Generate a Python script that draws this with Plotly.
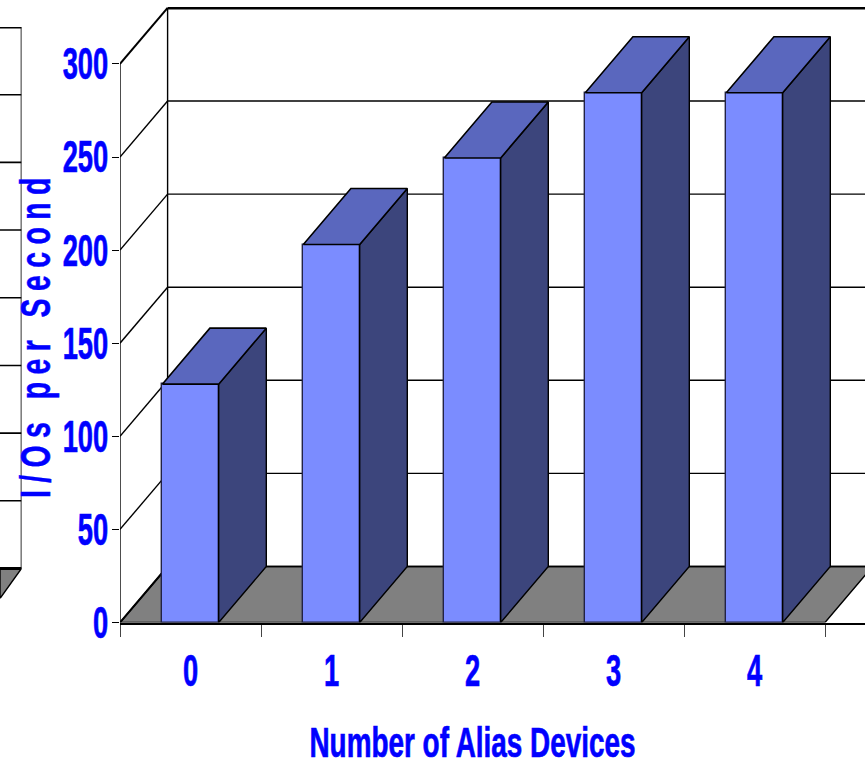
import plotly.graph_objects as go

# Measured results
categories = [0, 1, 2, 3, 4]
ios_per_second = [128, 203, 249.5, 284.5, 284.5]
y_ticks = [0, 50, 100, 150, 200, 250, 300]

# Neighbouring panel gridlines, in its own units
side_panel_ticks = [0, 50, 100, 150, 200, 250, 300, 350, 400]

FRONT = "#7B8CFF"
TOP = "#5A67BE"
SIDE = "#3C457C"
FLOOR = "#808080"
BLUE = "#0000FF"

WIDTH, HEIGHT = 865, 762
PLOT_LEFT, PLOT_BOTTOM, PLOT_TOP = 120, 622.5, 7
CAT_PX = 141.0
VAL_PX = 93.1 / 50
BAR_WIDTH = 0.4
DEPTH_X = 47.6 / CAT_PX
DEPTH_Y = 56 / VAL_PX

x_range = [-0.5, -0.5 + (WIDTH - PLOT_LEFT) / CAT_PX]
y_range = [0, (PLOT_BOTTOM - PLOT_TOP) / VAL_PX]

fig = go.Figure()
shapes = []


def wall_line(x0, y0, x1, y1, width=1.4):
    shapes.append(dict(type="line", xref="x", yref="y", x0=x0, y0=y0, x1=x1, y1=y1,
                       layer="below", line=dict(color="black", width=width)))


# Floor of the 3D box
left, right = x_range[0], categories[-1] + 0.5
shapes.append(dict(type="path", xref="x", yref="y", layer="below",
                   path=f"M {left} 0 L {left + DEPTH_X} {DEPTH_Y} L {right + DEPTH_X} {DEPTH_Y} L {right} 0 Z",
                   fillcolor=FLOOR, line=dict(color="black", width=1.4)))

# Side wall diagonals and back wall gridlines
for t in y_ticks:
    wall_line(left, t, left + DEPTH_X, t + DEPTH_Y, 2 if t in (0, 300) else 1.4)
    wall_line(left + DEPTH_X, t + DEPTH_Y, right + DEPTH_X, t + DEPTH_Y, 3 if t == 300 else 1.4)
wall_line(left + DEPTH_X, DEPTH_Y, left + DEPTH_X, y_ticks[-1] + DEPTH_Y)

# Front faces
fig.add_trace(go.Bar(x=categories, y=ios_per_second, width=BAR_WIDTH, showlegend=False,
                     marker=dict(color=FRONT, line=dict(color="#222244", width=1.4))))

# Front edge of the side wall, running over the plot boundary
fig.add_trace(go.Scatter(x=[left, left], y=[y_ticks[0], y_ticks[-1]], mode="lines",
                         cliponaxis=False, showlegend=False, hoverinfo="skip",
                         line=dict(color="black", width=1.4)))

# Side and top faces, projected from each bar's value
half = BAR_WIDTH / 2
for c, v in zip(categories, ios_per_second):
    fig.add_trace(go.Scatter(
        x=[c + half, c + half + DEPTH_X, c + half + DEPTH_X, c + half, c + half],
        y=[0, DEPTH_Y, v + DEPTH_Y, v, 0],
        mode="lines", fill="toself", fillcolor=SIDE, showlegend=False, hoverinfo="skip",
        line=dict(color="black", width=1.4)))
    fig.add_trace(go.Scatter(
        x=[c - half, c - half + DEPTH_X, c + half + DEPTH_X, c + half, c - half],
        y=[v, v + DEPTH_Y, v + DEPTH_Y, v, v],
        mode="lines", fill="toself", fillcolor=TOP, showlegend=False, hoverinfo="skip",
        line=dict(color="black", width=1.6)))

# Sliver of the neighbouring panel at the left edge
PANEL_W = 21.5 / WIDTH
PANEL_UNIT = (568.5 - 27) / 400
PANEL_FLOOR = -30 / PANEL_UNIT
shapes.append(dict(type="path", xref="x2", yref="y2", layer="below",
                   path=f"M -1 0 L 0 0 L -1 {PANEL_FLOOR} Z", fillcolor=FLOOR,
                   line=dict(color="black", width=1.4)))
for t in side_panel_ticks:
    shapes.append(dict(type="line", xref="x2", yref="y2", x0=-1, x1=0, y0=t, y1=t,
                       layer="below", line=dict(color="black", width=3 if t in (0, 400) else 1.6)))
fig.add_trace(go.Scatter(x=[0, 0], y=[side_panel_ticks[0], side_panel_ticks[-1]],
                         xaxis="x2", yaxis="y2", mode="lines", cliponaxis=False,
                         showlegend=False, hoverinfo="skip",
                         line=dict(color="black", width=1.6)))

tick_font = dict(family="Liberation Sans", size=44, color=BLUE, weight="bold")
title_font = dict(family="Liberation Sans", size=42, color=BLUE, weight="bold")
fig.update_layout(
    width=WIDTH, height=HEIGHT,
    margin=dict(l=0, r=0, t=0, b=0, pad=0, autoexpand=False),
    paper_bgcolor="white", plot_bgcolor="white",
    bargap=0, shapes=shapes,
    xaxis=dict(domain=[PLOT_LEFT / WIDTH, 1], range=x_range,
               tickvals=categories, ticktext=[str(c) for c in categories],
               ticks="", ticklen=0, showgrid=False, zeroline=False, tickfont=tick_font,
               showline=True, linecolor="black", linewidth=2, ticklabelstandoff=9,
               minor=dict(tick0=-0.5, dtick=1, ticks="outside", ticklen=12, tickwidth=1.4,
                          tickcolor="#444444", showgrid=False)),
    yaxis=dict(domain=[1 - PLOT_BOTTOM / HEIGHT, 1 - PLOT_TOP / HEIGHT], range=y_range,
               tickvals=y_ticks, ticks="outside", ticklen=7, tickwidth=1.4,
               tickcolor="black", showgrid=False, zeroline=False, tickfont=tick_font,
               showline=False, ticklabelstandoff=-5),
    xaxis2=dict(domain=[0, PANEL_W], range=[-1, 0], visible=False, anchor="y2"),
    yaxis2=dict(domain=[1 - (568.5 + 30) / HEIGHT, 1 - 27 / HEIGHT],
                range=[PANEL_FLOOR, 400], visible=False, anchor="x2"),
    annotations=[
        dict(text="Number of Alias Devices", xref="paper", yref="paper",
             x=472.5 / WIDTH, y=1 - 742.5 / HEIGHT,
             showarrow=False, xanchor="center", yanchor="middle", font=title_font),
        dict(text="I/Os per Second", xref="paper", yref="paper",
             x=35 / WIDTH, y=1 - 334 / HEIGHT,
             textangle=-90, showarrow=False, xanchor="center", yanchor="middle",
             font=title_font),
    ],
)

# The labels are set in a condensed cut of the face: squeeze the glyphs along the baseline
# and thicken the strokes a little to keep the heavy look.
squeeze_script = """
var gd = document.querySelector('.plotly-graph-div');
function fit(el, len, spacing, stroke) {
  if (spacing) { el.style.letterSpacing = spacing + 'px'; }
  el.setAttribute('lengthAdjust', 'spacingAndGlyphs');
  el.setAttribute('textLength', len);
  el.style.stroke = '#0000FF';
  el.style.strokeWidth = stroke + 'px';
}
gd.querySelectorAll('.ytick text, .xtick text').forEach(function (t) {
  fit(t, t.getComputedTextLength() * 0.62, 0, 0.7);
});
gd.querySelectorAll('.annotation-text').forEach(function (t) {
  if (t.textContent.indexOf('Number') === 0) { fit(t, 326, 0, 0.7); }
  else { fit(t, 328, 11, 0.5); }
});
"""

fig.write_html("out.html", post_script=squeeze_script)
